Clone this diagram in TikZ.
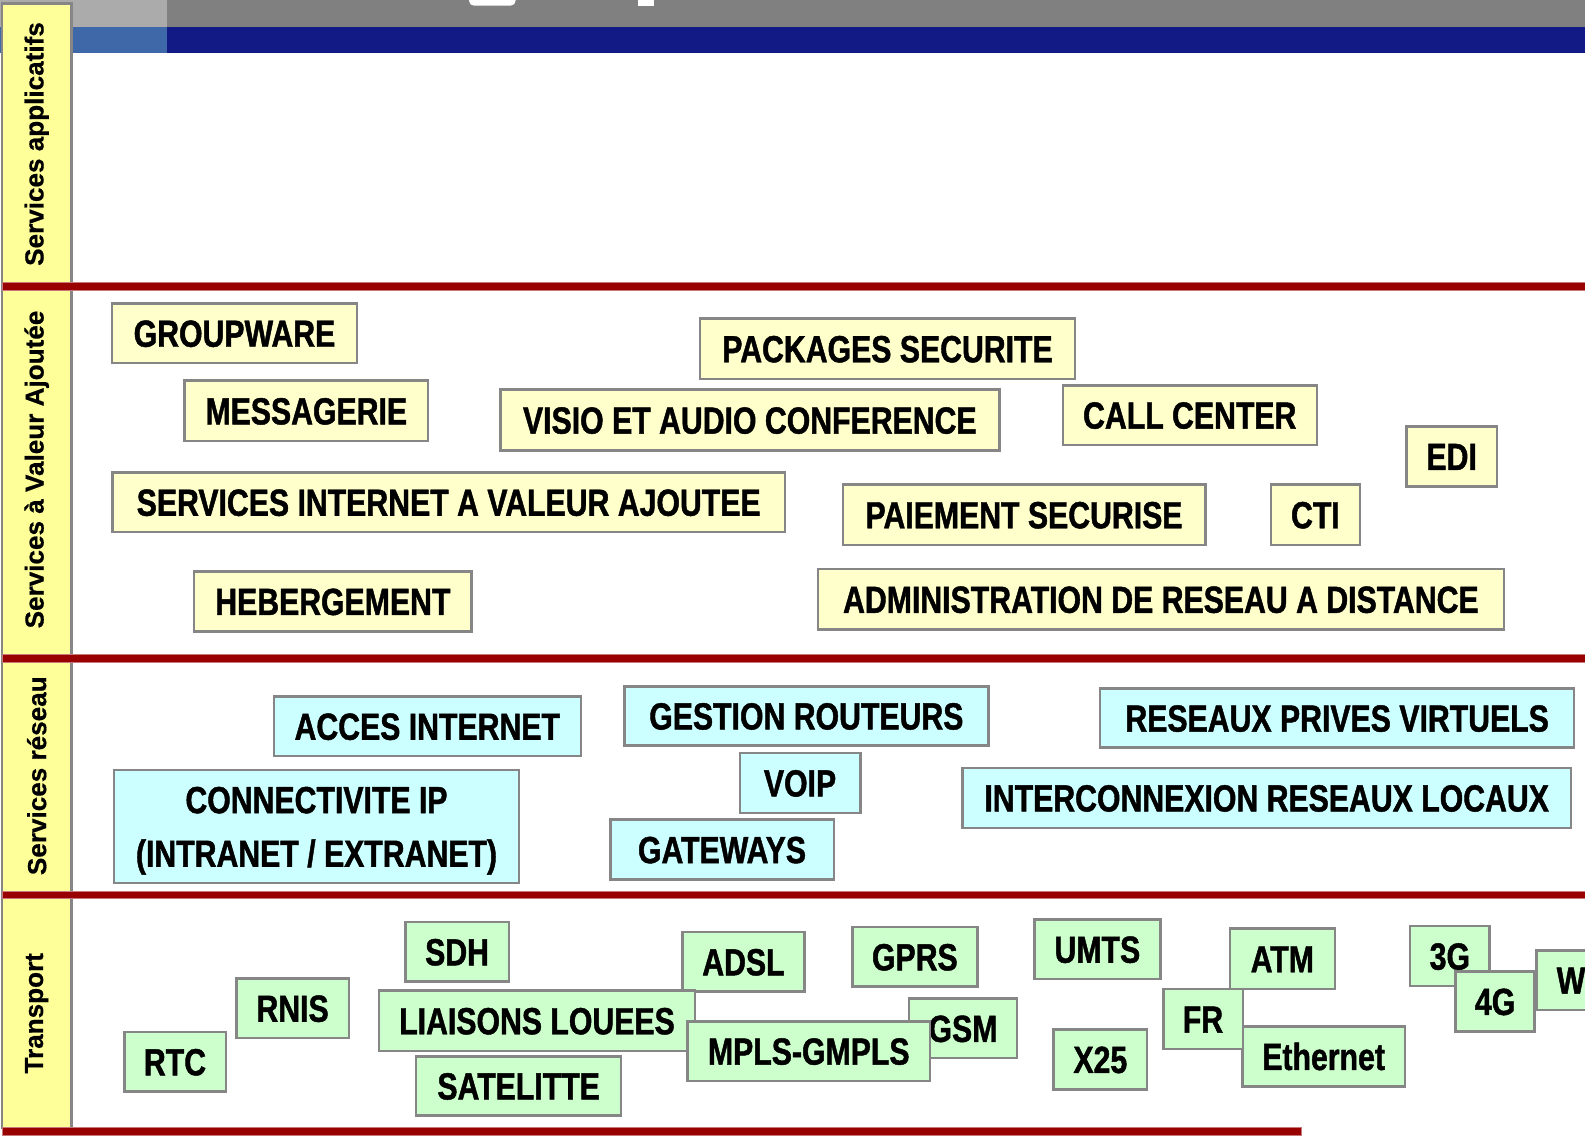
\documentclass[tikz,border=0pt]{standalone}
\usepackage{fontspec}
\newfontfamily\boxfont[FakeStretch=0.8,FakeBold=1.2]{Liberation Sans Bold}
\newfontfamily\sidefont[FakeBold=0.6]{Liberation Sans Bold}

\definecolor{ylight}{HTML}{FFFFCC}
\definecolor{clight}{HTML}{CCFFFF}
\definecolor{glight}{HTML}{CCFFCC}
\definecolor{yside}{HTML}{FFFF99}
\definecolor{boxgray}{HTML}{868686}
\definecolor{rulered}{HTML}{990000}
\definecolor{rulerededge}{HTML}{C87878}
\definecolor{topgray}{HTML}{808080}
\definecolor{toplight}{HTML}{ABABAB}
\definecolor{bandlight}{HTML}{3F68A8}
\definecolor{bandnavy}{HTML}{111A85}

\tikzset{
  box/.style={draw=boxgray, line width=1.25pt, inner sep=0pt,
    text height=13.6pt, text depth=0pt,
    font=\boxfont\fontsize{18.9}{26.8}\selectfont},
  ybox/.style={box, fill=ylight},
  cbox/.style={box, fill=clight},
  gbox/.style={box, fill=glight},
  sidecol/.style={draw=boxgray, line width=1.25pt, fill=yside},
  sidelabel/.style={rotate=90, inner sep=0pt,
    font=\sidefont\fontsize{13.05}{15}\selectfont},
  redrule/.style={fill=rulered, draw=rulerededge, line width=0.4pt},
}

% box node from its outer corners (x1,y1)-(x2,y2), in pixel units
\newcommand\bx[7]{%
  \pgfmathsetmacro\bxw{(#5-#3-2.5)*0.5}%
  \pgfmathsetmacro\bxh{(#6-#4-2.5)*0.5}%
  \node[#2, minimum width=\bxw pt, minimum height=\bxh pt] (#1)
    at ({(#3+#5)/2},{(#4+#6)/2}) {#7};%
}

\begin{document}
\begin{tikzpicture}[x=0.5pt, y=-0.5pt]
\useasboundingbox (0,0) rectangle (1585,1139);
\clip (0,0) rectangle (1585,1139);
\fill[white] (0,0) rectangle (1585,1139);

% title bar
\fill[topgray] (0,0) rectangle (1585,26.7);
\fill[toplight] (0,0) rectangle (167.4,26.7);
\fill[bandnavy] (167.4,26.7) rectangle (1585,52.7);
\fill[bandlight] (0,26.7) rectangle (167.4,52.7);
\fill[white, rounded corners=2.5pt] (469,-10) rectangle (515.6,5.7);
\fill[white] (637.5,-10) rectangle (654,6);

% layer columns
\draw[sidecol] (2,3.3) rectangle (71.5,286);
\draw[sidecol] (2,286) rectangle (71.5,656);
\draw[sidecol] (2,658) rectangle (71.5,894);
\draw[sidecol] (2,894) rectangle (71.5,1128);
\node[sidelabel] (lapp) at (36.7,144) {Services applicatifs};
\node[sidelabel] (lsva) at (36.7,469.5) {Services à Valeur Ajoutée};
\node[sidelabel] (lres) at (36.7,775.7) {Services réseau};
\node[sidelabel] (ltra) at (36.7,1013.3) {Transport};

% separators
\draw[redrule] (2,282) rectangle (1590,290);
\draw[redrule] (2,654) rectangle (1590,662);
\draw[redrule] (2,891) rectangle (1590,898.5);
\draw[redrule] (2,1127.5) rectangle (1301,1135);

% value-added services
\bx{gw}{ybox}{110.7}{302.3}{358.3}{364}{GROUPWARE}
\bx{msg}{ybox}{183.3}{379.3}{429.3}{442.3}{MESSAGERIE}
\bx{pkg}{ybox}{698.9}{317.3}{1076.2}{380}{PACKAGES SECURITE}
\bx{visio}{ybox}{499.1}{388.3}{1000.5}{451.7}{VISIO ET AUDIO CONFERENCE}
\bx{call}{ybox}{1061.5}{384}{1318}{446}{CALL CENTER}
\bx{edi}{ybox}{1405}{425}{1498.3}{487.7}{EDI}
\bx{sia}{ybox}{111.2}{471}{786.2}{533.3}{SERVICES INTERNET A VALEUR AJOUTEE}
\bx{pay}{ybox}{841.6}{483.3}{1206.5}{546}{PAIEMENT SECURISE}
\bx{cti}{ybox}{1269.6}{483.3}{1361.2}{546}{CTI}
\bx{heb}{ybox}{192.9}{570}{472.8}{632.7}{HEBERGEMENT}
\bx{adm}{ybox}{816.5}{567.7}{1505.3}{630.7}{ADMINISTRATION DE RESEAU A DISTANCE}

% network services
\bx{acc}{cbox}{272.5}{695.3}{582.1}{757}{ACCES INTERNET}
\bx{ipc}{cbox, align=center, text height=40.4pt, text depth=0pt}{112.9}{768.7}{520.1}{884}{CONNECTIVITE IP\\(INTRANET / EXTRANET)}
\bx{gr}{cbox}{623}{685}{989.7}{746.7}{GESTION ROUTEURS}
\bx{voip}{cbox}{738.5}{751.7}{861.6}{814}{VOIP}
\bx{gwy}{cbox}{609}{818.3}{835}{880.7}{GATEWAYS}
\bx{rpv}{cbox}{1098.9}{687.3}{1575.4}{748.7}{RESEAUX PRIVES VIRTUELS}
\bx{irl}{cbox}{961.2}{766.7}{1572.2}{829}{INTERCONNEXION RESEAUX LOCAUX}

% transport
\bx{rtc}{gbox}{123}{1030.7}{227}{1092.7}{RTC}
\bx{rnis}{gbox}{235.2}{977}{350}{1039.3}{RNIS}
\bx{sdh}{gbox}{404}{920.7}{510.2}{982.7}{SDH}
\bx{adsl}{gbox}{681.3}{930.7}{805.6}{992.7}{ADSL}
\bx{ll}{gbox}{377.6}{989.3}{696.4}{1052}{LIAISONS LOUEES}
\bx{sat}{gbox}{414.8}{1055}{622.4}{1116.7}{SATELITTE}
\bx{gsm}{gbox}{907.6}{997.3}{1018.3}{1059.3}{GSM}
\bx{gprs}{gbox}{851}{925.7}{978.7}{987.7}{GPRS}
\bx{mpls}{gbox}{686.3}{1020}{931.2}{1082}{MPLS-GMPLS}
\bx{umts}{gbox}{1033.3}{918}{1161.5}{980.3}{UMTS}
\bx{x25}{gbox}{1052.3}{1028}{1148.4}{1090.7}{X25}
\bx{atm}{gbox}{1228.5}{927.3}{1336.2}{990}{ATM}
\bx{eth}{gbox}{1241}{1025}{1406.2}{1087.7}{Ethernet}
\bx{fr}{gbox}{1162}{987.7}{1244}{1050.3}{FR}
\bx{g3}{gbox}{1408.8}{924.7}{1490.9}{987.3}{3G}
\bx{wx}{gbox}{1535}{949}{1607}{1011}{W}
\bx{g4}{gbox}{1454.3}{970}{1535.9}{1032.7}{4G}
\end{tikzpicture}
\end{document}
